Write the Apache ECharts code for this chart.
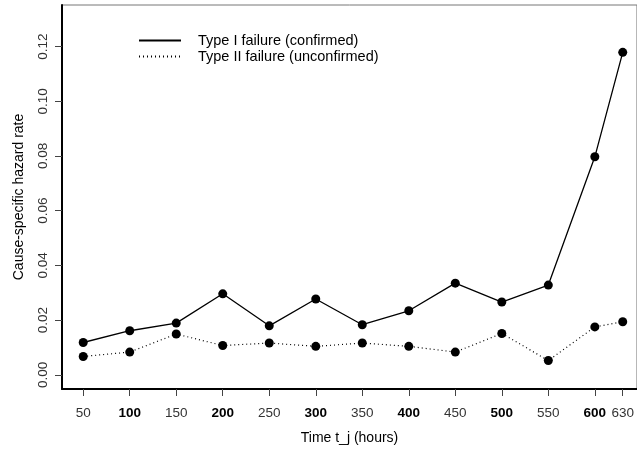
<!DOCTYPE html>
<html><head><meta charset="utf-8">
<script src="https://cdn.jsdelivr.net/npm/echarts@6/dist/echarts.min.js"></script>
<style>html,body{margin:0;padding:0;background:#fff}#c{width:637px;height:452px}</style>
</head><body><div id="c"></div>
<script>
var times = [50,100,150,200,250,300,350,400,450,500,550,600,630];
var typeI = [0.0118,0.0161,0.0189,0.0296,0.0179,0.0277,0.0183,0.0234,0.0335,0.0266,0.0328,0.0797,0.1179];
var typeII = [0.0067,0.0083,0.0149,0.0107,0.0116,0.0104,0.0116,0.0104,0.0083,0.0151,0.0052,0.0175,0.0194];
var xTicks = [50,100,150,200,250,300,350,400,450,500,550,600,630];
var boldTicks = [100,200,300,400,500,600];
var yTicks = [0,0.02,0.04,0.06,0.08,0.10,0.12];
var FONT = 'Liberation Sans, Arial, sans-serif';

function pairs(xs, ys){ return xs.map(function(x,i){return [x, ys[i]];}); }

var chart = echarts.init(document.getElementById('c'), null, {renderer:'canvas'});
chart.setOption({
  animation:false,
  backgroundColor:'#fff',
  grid:{left:62, right:-2, top:5, bottom:63, show:true, borderColor:'#777', borderWidth:1},
  legend:{
    orient:'vertical', left:133, top:28, itemWidth:42, itemHeight:12, itemGap:1,
    textStyle:{fontFamily:FONT, fontSize:14.5, lineHeight:13, color:'#000', padding:[0,0,0,12]},
    itemStyle:{color:'transparent', borderWidth:0},
    data:['Type I failure (confirmed)','Type II failure (unconfirmed)']
  },
  xAxis:{
    type:'value', min:27.2, max:645.3,
    name:'Time t_j (hours)', nameLocation:'middle', nameGap:42,
    nameTextStyle:{fontFamily:FONT, fontSize:14, color:'#000'},
    splitLine:{show:false},
    axisLine:{show:true, onZero:false, lineStyle:{color:'#000', width:2}},
    axisTick:{show:true, length:7, customValues:xTicks, lineStyle:{color:'#444', width:1}},
    axisLabel:{
      customValues:xTicks, margin:17, fontFamily:FONT, fontSize:13.5, color:'#333',
      formatter:function(v){ return boldTicks.indexOf(v)>=0 ? '{b|'+v+'}' : ''+v; },
      rich:{b:{fontFamily:FONT, fontSize:13.5, fontWeight:'bold', color:'#000'}}
    }
  },
  yAxis:{
    type:'value', min:-0.0052, max:0.1352,
    name:'Cause-specific hazard rate', nameLocation:'middle', nameGap:36, nameRotate:90,
    nameTextStyle:{fontFamily:FONT, fontSize:14, color:'#000'},
    splitLine:{show:false},
    axisLine:{show:true, onZero:false, lineStyle:{color:'#000', width:2}},
    axisTick:{show:true, length:7, customValues:yTicks, lineStyle:{color:'#444', width:1}},
    axisLabel:{
      customValues:yTicks, rotate:90, margin:12, fontFamily:FONT, fontSize:13.5, color:'#333',
      formatter:function(v){ return v.toFixed(2); }
    }
  },
  series:[
    {name:'Type I failure (confirmed)', type:'line', data:pairs(times,typeI),
     symbol:'circle', symbolSize:9, itemStyle:{color:'#000'},
     lineStyle:{color:'#000', width:1.3, type:'solid'}},
    {name:'Type II failure (unconfirmed)', type:'line', data:pairs(times,typeII),
     symbol:'circle', symbolSize:9, itemStyle:{color:'#000'},
     lineStyle:{color:'#000', width:1.2, type:[1,3]}}
  ]
});
</script></body></html>
